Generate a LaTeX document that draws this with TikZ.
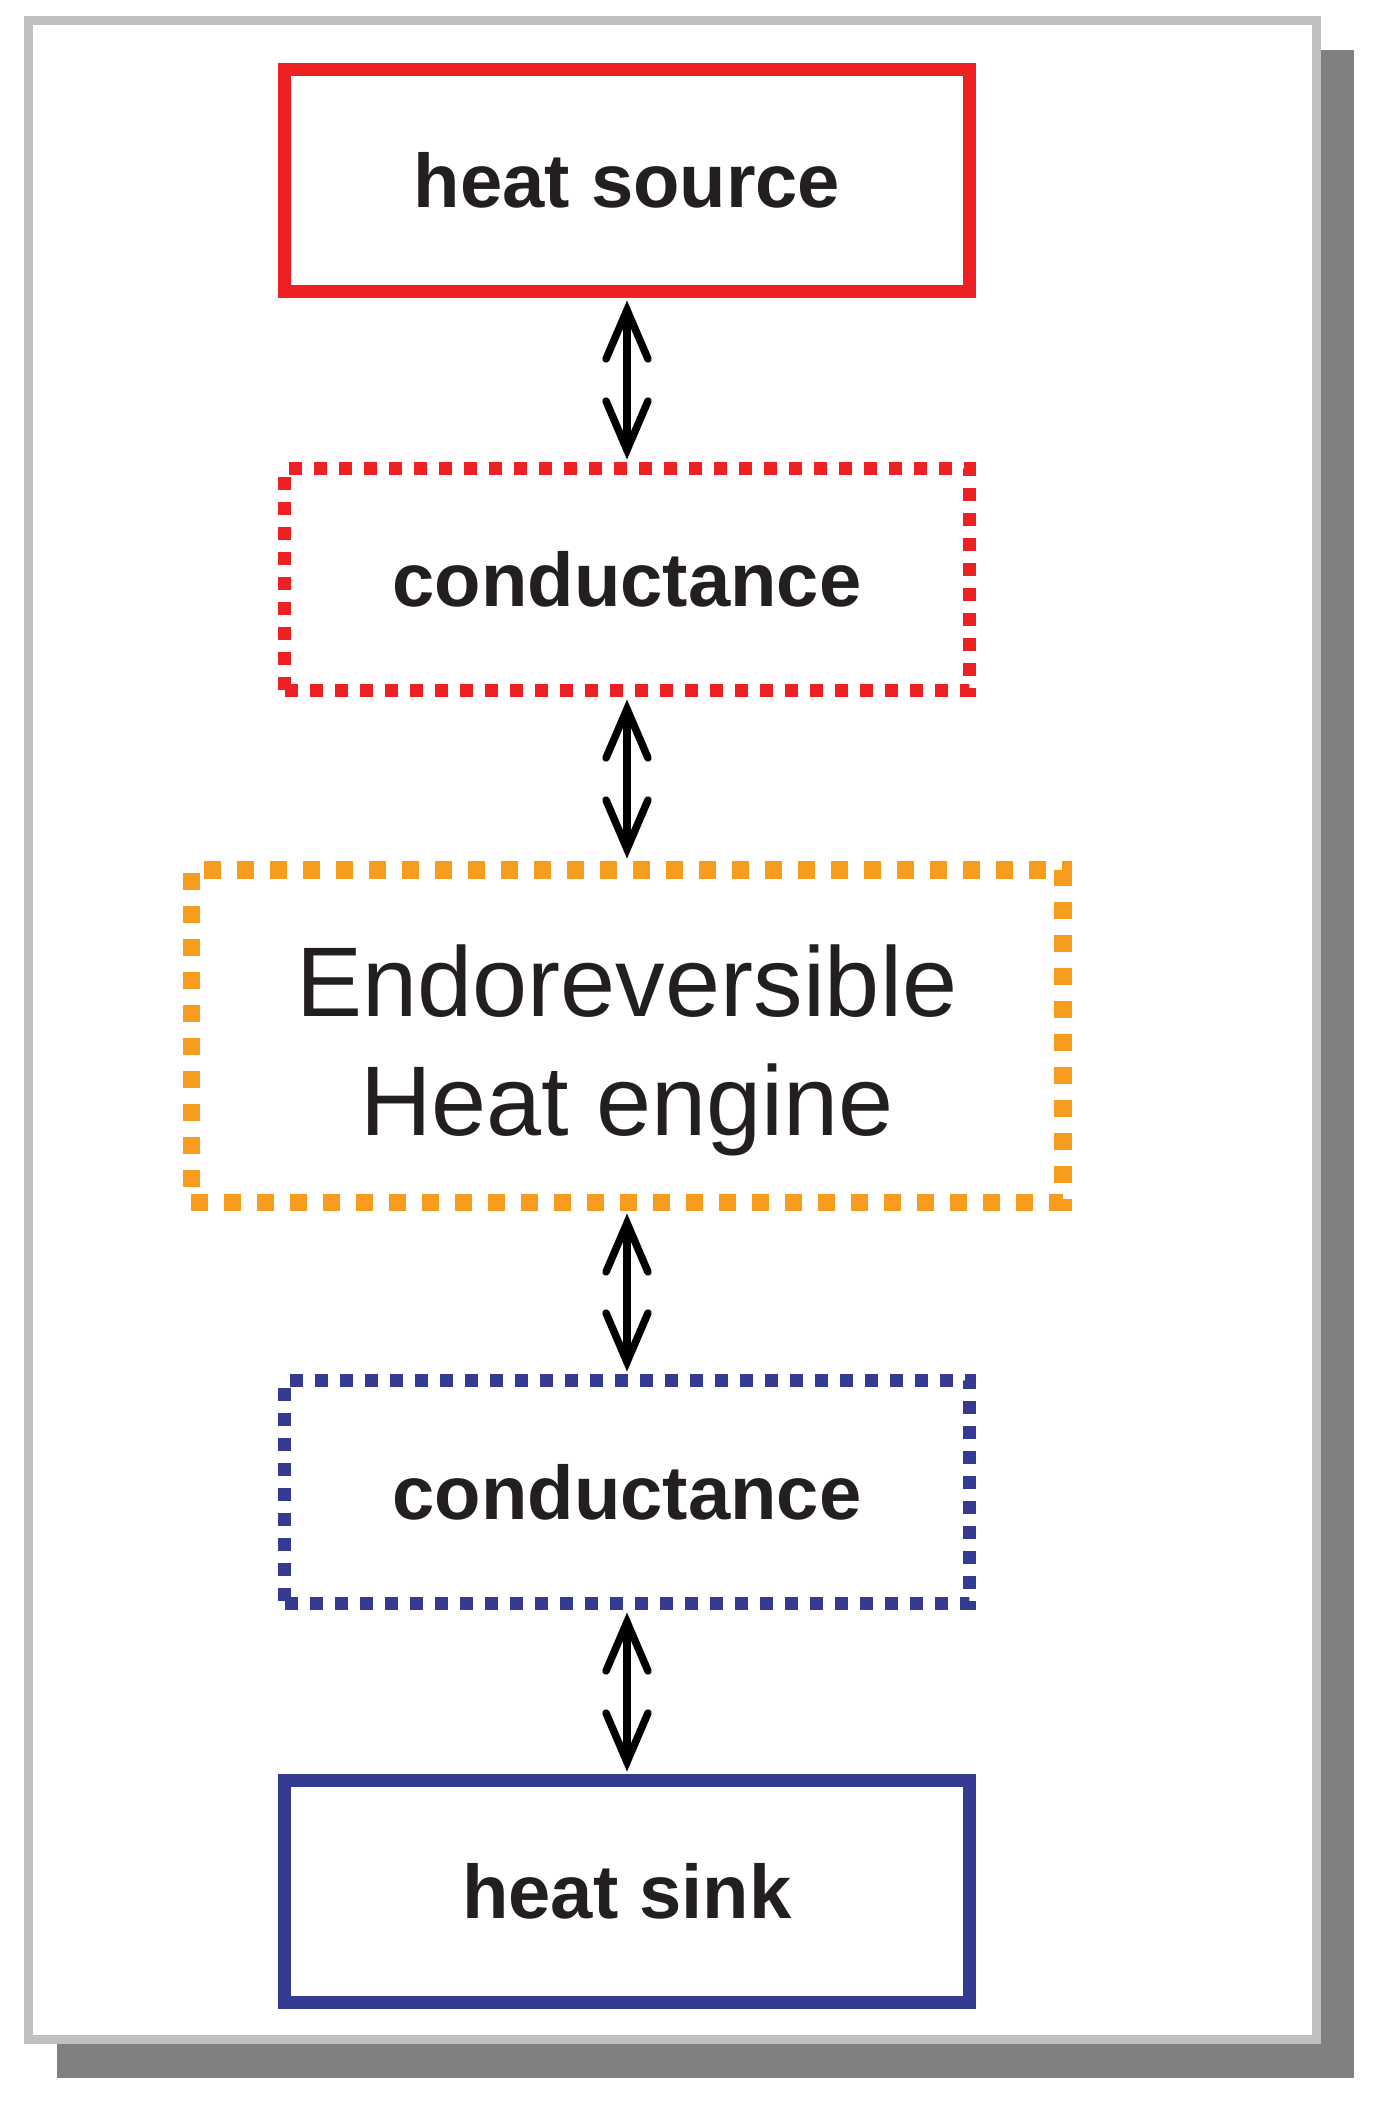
\documentclass[tikz,border=0pt]{standalone}
\usepackage{fontspec}
\setmainfont{Liberation Sans}
\definecolor{srcred}{HTML}{ED2024}
\definecolor{engorange}{HTML}{F89C20}
\definecolor{sinkblue}{HTML}{353A92}
\definecolor{txt}{HTML}{231F20}
\definecolor{framegray}{HTML}{C0C0C0}
\definecolor{shadowgray}{HTML}{808080}
\newcommand\hlink[2]{%
  \draw[shaft] ([yshift=-12pt]#1.south) -- ([yshift=12pt]#2.north);
  \draw[barbline] ([xshift=-21pt,yshift=-61pt]#1.south) -- ([yshift=-12pt]#1.south) -- ([xshift=21pt,yshift=-61pt]#1.south);
  \draw[barbline] ([xshift=-21pt,yshift=61pt]#2.north) -- ([yshift=12pt]#2.north) -- ([xshift=21pt,yshift=61pt]#2.north);
}
\begin{document}
\begin{tikzpicture}[x=1pt,y=-1pt,
  box/.style={draw, rectangle, minimum width=685pt, minimum height=222pt, inner sep=0pt,
    line width=13pt, text=txt, font=\fontsize{76}{92}\selectfont\bfseries},
  dotbox/.style={box, dash pattern=on 13pt off 12pt},
  engbox/.style={draw=engorange, rectangle, line width=17.5pt, dash pattern=on 17pt off 16pt,
    minimum width=871.5pt, minimum height=332.5pt, inner sep=0pt},
  engtext/.style={text=txt, font=\fontsize{99}{119}\selectfont, align=center, inner sep=0pt},
  shaft/.style={line width=7.5pt, draw=black, line cap=butt},
  barbline/.style={line width=7.5pt, draw=black, line cap=round, line join=miter}
]
\useasboundingbox (0,0) rectangle (1397,2106);
\fill[shadowgray] (57,50) rectangle (1354,2078);
\draw[framegray, line width=9pt, fill=white] (28.5,20.5) rectangle (1316.5,2039.5);

\node[box, draw=srcred] (src) at (627,180.5) {heat source};
\node[dotbox, draw=srcred] (c1) at (627,579.5) {conductance};
\node[engbox] (eng) at (627,1036) {};
\node[engtext, anchor=north] (engt) at ([yshift=91pt]eng.center) {Endoreversible\\Heat engine};
\node[dotbox, draw=sinkblue, minimum height=223pt] (c2) at (627,1492) {conductance};
\node[box, draw=sinkblue] (sink) at (627,1891.5) {heat sink};

\hlink{src}{c1}
\hlink{c1}{eng}
\hlink{eng}{c2}
\hlink{c2}{sink}
\end{tikzpicture}
\end{document}
